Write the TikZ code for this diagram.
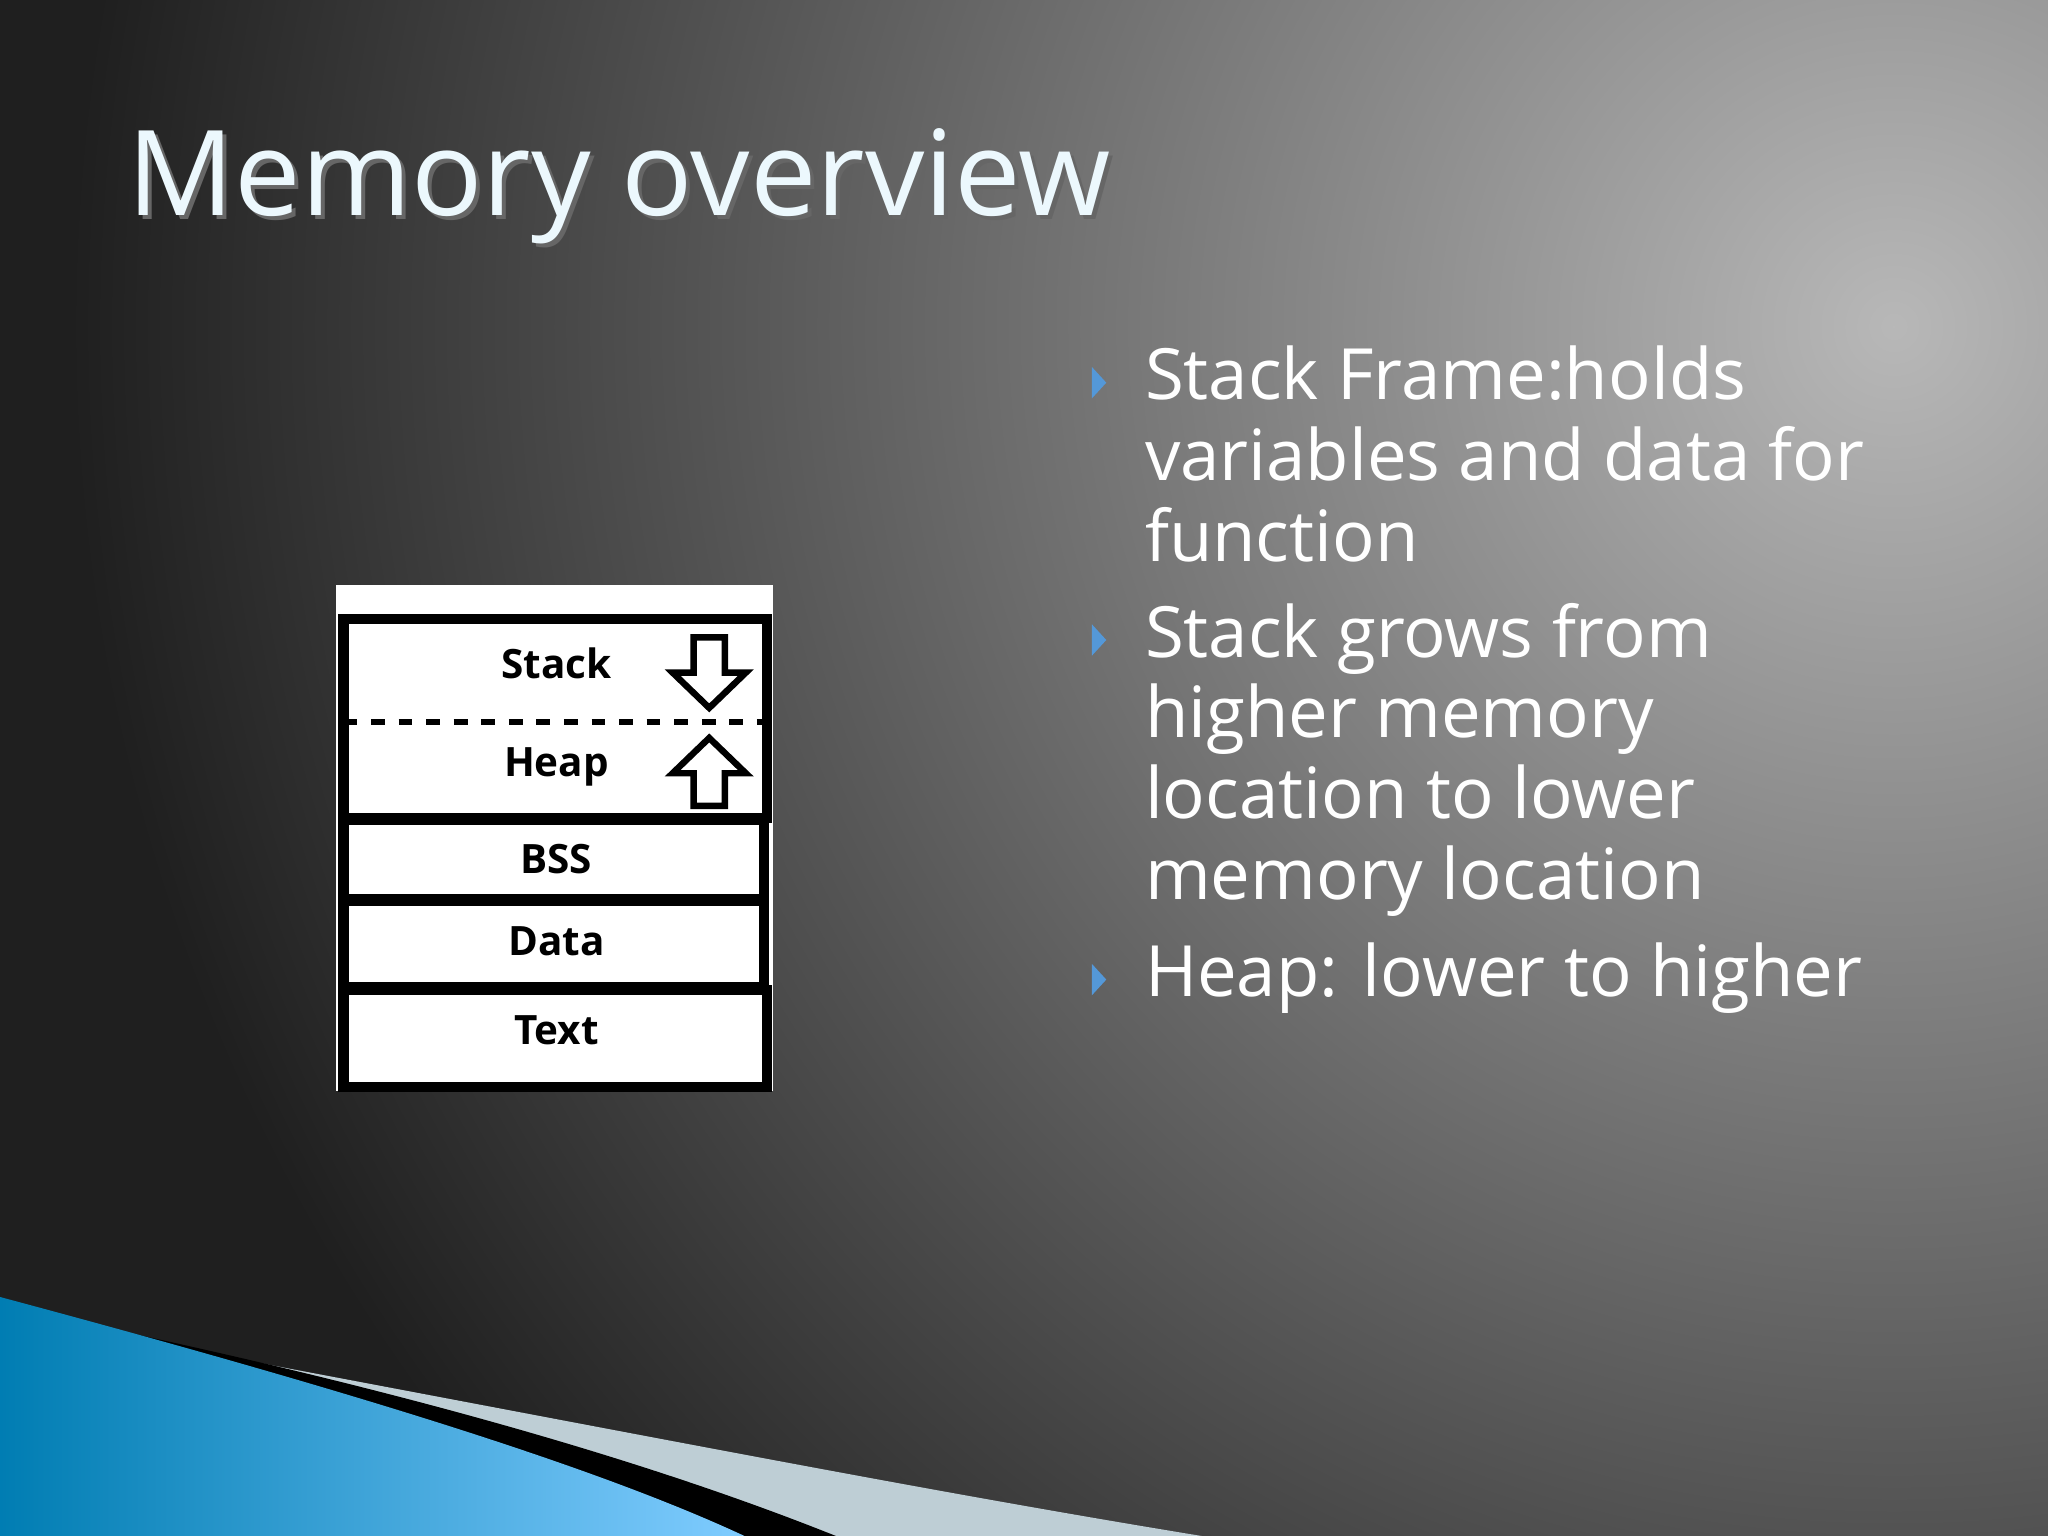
\documentclass[tikz,border=0pt]{standalone}
\usepackage{fontspec}
\setmainfont{Open Sans}
\begin{document}
\begin{tikzpicture}[x=0.01cm,y=-0.01cm,
  seg/.style={draw=black,line width=2.2pt,fill=white},
  lbl/.style={font=\fontsize{8.8pt}{10pt}\selectfont\bfseries},
  bul/.style={anchor=north west,align=left,text=white,inner sep=0pt,font=\fontsize{15.4pt}{17.6pt}\selectfont},
  tri/.style={fill=cyan!60!blue!70!white}]
\useasboundingbox (0,0) rectangle (1568,1176);
\fill[black!88] (0,0) rectangle (1568,1176);
\begin{scope}
\clip (0,0) rectangle (1568,1176);
\shade[inner color=black!28,outer color=black!88] (1450,250) circle (1400);
\end{scope}
% bottom waves
\fill[black!60!cyan!30] (100,1025) .. controls (500,1100) and (700,1140) .. (920,1176) -- (500,1176) -- cycle;
\fill[black] (0,1000) .. controls (300,1060) and (500,1120) .. (640,1176) -- (520,1176) -- cycle;
\shade[left color=cyan!70!blue!70!black,right color=cyan!60!blue!50] (0,993) .. controls (250,1060) and (450,1120) .. (570,1176) -- (0,1176) -- cycle;
% title
\node[anchor=base west,text=black!60,inner sep=0pt,font=\fontsize{25.8pt}{28pt}\selectfont] (tsh) at (100,168) {Memory overview};
\node[anchor=base west,text=gray!15!cyan!8!white,inner sep=0pt,font=\fontsize{25.8pt}{28pt}\selectfont] (title) at (97,165) {Memory overview};
% diagram
\fill[white] (257,448) rectangle (592,835);
\draw[seg] (263,474) rectangle (587,626);
\draw[dashed,line width=1.3pt] (263,553) -- (587,553);
\draw[seg] (263,628) rectangle (585,688);
\draw[seg] (263,690) rectangle (585,756);
\draw[seg] (263,758) rectangle (587,832);
\node[lbl] (st) at (426,508) {Stack};
\node[lbl] (hp) at (426,587) {Heap};
\node[lbl] (bss) at (426,658) {BSS};
\node[lbl] (da) at (426,721) {Data};
\node[lbl] (tx) at (426,789) {Text};
\draw[line width=1.4pt,fill=white] (531,488) -- (555,488) -- (555,515) -- (571,515) -- (543,542) -- (515,515) -- (531,515) -- cycle;
\draw[line width=1.4pt,fill=white] (531,617) -- (555,617) -- (555,592) -- (571,592) -- (543,565) -- (515,592) -- (531,592) -- cycle;
% bullets
\foreach \yy in {293,490,750} \fill[tri] (836,\yy-12) -- (847,\yy) -- (836,\yy+12) -- cycle;
\node[bul] (b1) at (876,264) {Stack Frame:holds\\variables and data for\\function};
\node[bul] (b2) at (876,461) {Stack grows from\\higher memory\\location to lower\\memory location};
\node[bul] (b3) at (876,721) {Heap: lower to higher};
\end{tikzpicture}
\end{document}
